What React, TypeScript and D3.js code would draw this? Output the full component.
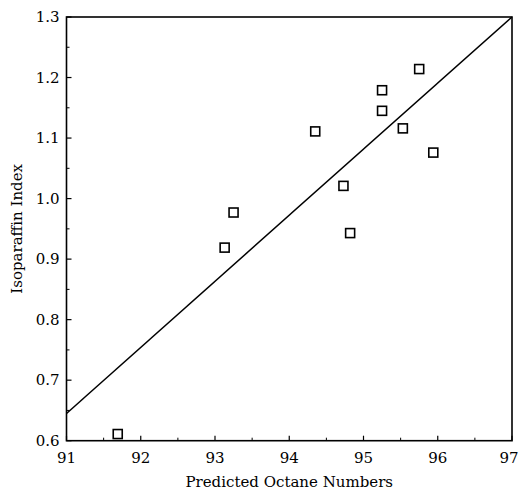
import React from "react";
import * as d3 from "d3";

const octane = [91.69, 93.13, 93.25, 94.35, 94.73, 94.82, 95.25, 95.25, 95.53, 95.75, 95.94];
const isoIndex = [0.611, 0.919, 0.977, 1.111, 1.021, 0.943, 1.145, 1.179, 1.116, 1.214, 1.076];
const fitLine = [
  { x: 91, y: 0.645 },
  { x: 97, y: 1.3 },
];
const xTicks = [91, 92, 93, 94, 95, 96, 97];
const yTicks = [0.6, 0.7, 0.8, 0.9, 1.0, 1.1, 1.2, 1.3];

const width = 519;
const height = 492;
const left = 66.5;
const right = 512;
const top = 17;
const bottom = 440.7;
const font = "'DejaVu Serif', serif";

const App = () => {
  const x = d3.scaleLinear().domain([91, 97]).range([left, right]);
  const y = d3.scaleLinear().domain([0.6, 1.3]).range([bottom, top]);
  const line = d3
    .line<{ x: number; y: number }>()
    .x((d) => x(d.x))
    .y((d) => y(d.y));
  const xMinor = d3.range(91.5, 97, 1);
  const yMinor = d3.range(0.65, 1.3, 0.1);

  return (
    <svg
      width={width}
      height={height}
      style={{ position: "absolute", left: 0, top: 0, background: "#fff" }}
    >
      <rect
        x={left}
        y={top}
        width={right - left}
        height={bottom - top}
        fill="none"
        stroke="#000"
        strokeWidth={1.6}
      />
      {xTicks.map((t, i) => (
        <g key={"x" + t}>
          <line x1={x(t)} x2={x(t)} y1={bottom} y2={bottom - 5} stroke="#000" strokeWidth={1.2} />
          <text
            x={x(t) - (i === xTicks.length - 1 ? 3 : 0)}
            y={bottom + 22}
            textAnchor="middle"
            fontFamily={font}
            fontSize={15}
          >
            {t}
          </text>
        </g>
      ))}
      {xMinor.map((t) => (
        <line key={"xm" + t} x1={x(t)} x2={x(t)} y1={bottom} y2={bottom - 3} stroke="#000" strokeWidth={1} />
      ))}
      {yTicks.map((t) => (
        <g key={"y" + t}>
          <line x1={left} x2={left + 5} y1={y(t)} y2={y(t)} stroke="#000" strokeWidth={1.2} />
          <text x={left - 7} y={y(t) + 5} textAnchor="end" fontFamily={font} fontSize={15}>
            {t.toFixed(1)}
          </text>
        </g>
      ))}
      {yMinor.map((t) => (
        <line key={"ym" + t} x1={left} x2={left + 3} y1={y(t)} y2={y(t)} stroke="#000" strokeWidth={1} />
      ))}
      <path d={line(fitLine) ?? ""} fill="none" stroke="#000" strokeWidth={1.5} />
      {octane.map((v, i) => (
        <rect
          key={i}
          x={x(v) - 4.5}
          y={y(isoIndex[i]) - 4.5}
          width={9}
          height={9}
          fill="#fff"
          stroke="#000"
          strokeWidth={1.6}
        />
      ))}
      <text
        x={(left + right) / 2}
        y={487}
        textAnchor="middle"
        fontFamily={font}
        fontSize={15}
      >
        Predicted Octane Numbers
      </text>
      <text
        transform={`translate(22, ${(top + bottom) / 2}) rotate(-90)`}
        textAnchor="middle"
        fontFamily={font}
        fontSize={15}
      >
        Isoparaffin Index
      </text>
    </svg>
  );
};

export default App;
